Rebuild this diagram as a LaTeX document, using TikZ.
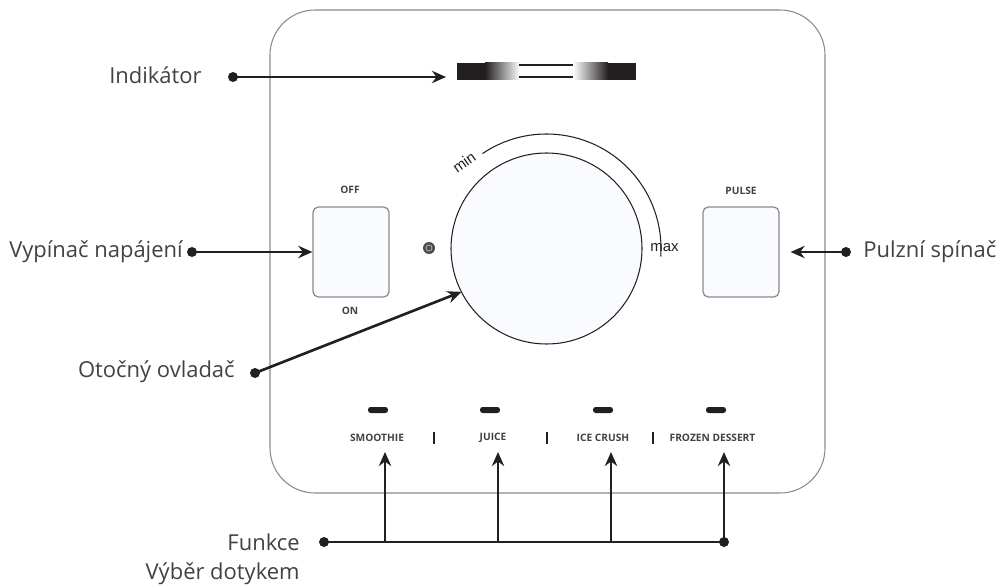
\documentclass[tikz,border=0pt]{standalone}
\usepackage{fontspec}
\setmainfont{Open Sans}
\newfontfamily\arialfont{Liberation Sans}
\usetikzlibrary{arrows.meta,calc}
\definecolor{ink}{HTML}{231F20}
\definecolor{panelgray}{HTML}{8A8A8A}
\definecolor{paleblue}{HTML}{FAFBFE}
\tikzset{
  callout/.style={font=\fontsize{12.5}{17}\selectfont, text=ink!85, inner sep=0pt},
  arr/.style={draw=ink, line width=1.5pt, -{Stealth[length=8pt,width=7pt]}},
  link/.style={draw=ink, line width=1.5pt},
  switchbox/.style={draw=panelgray, fill=paleblue, rounded corners=3pt, line width=0.7pt,
    minimum width=1.52cm, minimum height=1.80cm},
  tag/.style={font=\bfseries\fontsize{5.8}{6}\selectfont, text=ink!85, inner sep=0pt},
  led/.style={fill=ink, rounded corners=1.5pt},
}
\begin{document}
\begin{tikzpicture}
  \useasboundingbox (0,0) rectangle (20.04,11.74);

  % skrin
  \draw[panelgray, line width=0.6pt, rounded corners=0.9cm] (5.40,1.88) rectangle (16.50,11.54);

  % indikator
  \fill[ink] (9.14,10.14) rectangle (9.70,10.48);
  \shade[left color=ink, right color=white] (9.70,10.14) rectangle (10.40,10.48);
  \draw[ink, line width=0.6pt] (10.38,10.44) -- (11.48,10.44) (10.38,10.20) -- (11.48,10.20);
  \shade[left color=white, right color=ink] (11.46,10.14) rectangle (12.16,10.48);
  \fill[ink] (12.16,10.14) rectangle (12.72,10.48);
  \coordinate (barL) at (8.92,10.20);

  % otocny ovladac
  \coordinate (dial) at (10.93,6.77);
  \filldraw[draw=ink, line width=0.6pt, fill=paleblue] (dial) circle (1.91);
  \draw[ink, line width=0.6pt] (dial) ++(124:2.29) arc (124:-4:2.29);
  \coordinate (dialedge) at ($(dial)+(207:1.91)$);
  \node[font=\arialfont\fontsize{8.5}{9}\selectfont, text=ink, rotate=35] (minlab) at (9.28,8.49) {min};
  \node[font=\arialfont\fontsize{8.5}{9}\selectfont, text=ink, anchor=west, inner sep=0pt] (maxlab) at (13.00,6.78) {max};
  \fill[ink!80] (8.58,6.78) circle (0.12);
  \draw[white!70!ink, line width=0.4pt] (8.58,6.78) circle (0.06);

  % spinace
  \node[switchbox] (off) at (7.02,6.70) {};
  \node[tag] (offlab) at (7.00,7.94) {OFF};
  \node[tag] (onlab) at (7.00,5.52) {ON};
  \node[switchbox] (pulse) at (14.82,6.70) {};
  \node[tag] (pulselab) at (14.82,7.92) {PULSE};

  % funkce
  \foreach \x/\n in {7.56/a, 9.80/b, 12.06/c, 14.32/d}
    \fill[led] (\x-0.20,3.48) rectangle (\x+0.20,3.60);
  \node[tag] (smoothie) at (7.54,2.98) {SMOOTHIE};
  \node[tag] (juice) at (9.86,2.98) {JUICE};
  \node[tag] (icecrush) at (12.06,2.98) {ICE CRUSH};
  \node[tag] (frozen) at (14.25,2.98) {FROZEN DESSERT};
  \foreach \x in {8.68, 10.94, 13.06}
    \fill[ink] (\x-0.025,2.86) rectangle (\x+0.025,3.10);

  % popisky
  \node[callout, anchor=east] (indlab) at (4.04,10.24) {Indikátor};
  \coordinate (inddot) at (4.66,10.20);
  \fill[ink] (inddot) circle (0.1);
  \draw[arr] (inddot) -- (barL);

  \node[callout, anchor=east] (vyplab) at (3.66,6.70) {Vypínač napájení};
  \coordinate (vypdot) at (3.84,6.70);
  \fill[ink] (vypdot) circle (0.1);
  \draw[arr] (vypdot) -- (off.west);

  \node[callout, anchor=west] (pullab) at (17.26,6.70) {Pulzní spínač};
  \coordinate (puldot) at (16.92,6.70);
  \fill[ink] (puldot) circle (0.1);
  \draw[arr] (puldot) -- ($(pulse.east)+(0.22,0)$);

  \node[callout, anchor=east] (otolab) at (4.70,4.30) {Otočný ovladač};
  \coordinate (otodot) at (5.10,4.28);
  \fill[ink] (otodot) circle (0.1);
  \draw[arr] (otodot) -- (dialedge);

  \node[callout, anchor=north east, align=right] (funlab) at (6.00,1.08) {Funkce\\Výběr dotykem};
  \coordinate (fundot) at (6.48,0.90);
  \coordinate (fundend) at (14.48,0.90);
  \fill[ink] (fundot) circle (0.1) (fundend) circle (0.1);
  \draw[link] (fundot) -- (fundend);
  \foreach \x in {7.70, 9.96, 12.22, 14.48}
    \draw[arr] (\x,0.90) -- (\x,2.70);
\end{tikzpicture}
\end{document}
